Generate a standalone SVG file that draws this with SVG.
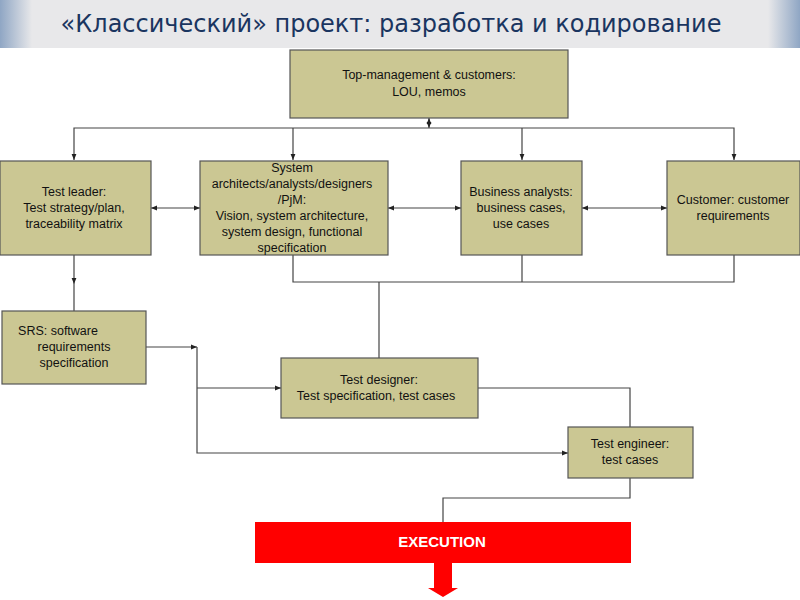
<svg xmlns="http://www.w3.org/2000/svg" width="800" height="600" viewBox="0 0 800 600">
<style>
.box{fill:#cbc793;stroke:#555;stroke-width:1.2}
.t{font-family:"Liberation Sans",Arial,sans-serif;font-size:12.5px;fill:#111;text-anchor:middle}
.c{fill:none;stroke:#444;stroke-width:1.2}
</style>
<defs>
<linearGradient id="bar" x1="0" x2="1" y1="0" y2="0">
<stop offset="0" stop-color="#8fa6c4"/><stop offset="0.04" stop-color="#e8e8ea"/><stop offset="0.96" stop-color="#e8e8ea"/><stop offset="1" stop-color="#8fa6c4"/>
</linearGradient>
<marker id="a" viewBox="0 0 10 10" refX="10" refY="5" markerWidth="5" markerHeight="5" orient="auto-start-reverse"><path d="M0,1 L10,5 L0,9 z" fill="#222"/></marker>
</defs>
<rect x="0" y="0" width="800" height="48" fill="url(#bar)"/>
<text x="391" y="32" font-family="'DejaVu Sans',sans-serif" font-size="24" fill="#1a3560" text-anchor="middle">«Классический» проект: разработка и кодирование</text>
<g id="connectors">
<path class="c" d="M429,118 V128" marker-start="url(#a)" marker-end="url(#a)"/>
<path class="c" d="M74,160 V128 H734 V160" marker-start="url(#a)" marker-end="url(#a)"/>
<path class="c" d="M293,128 V160" marker-end="url(#a)"/>
<path class="c" d="M522,128 V160" marker-end="url(#a)"/>
<path class="c" d="M151,208 H200" marker-start="url(#a)" marker-end="url(#a)"/>
<path class="c" d="M388,208 H461" marker-start="url(#a)" marker-end="url(#a)"/>
<path class="c" d="M582,208 H667" marker-start="url(#a)" marker-end="url(#a)"/>
<path class="c" d="M74,255 V284" marker-end="url(#a)"/>
<path class="c" d="M74,284 V311"/>
<path class="c" d="M293,255 V282 H734 V255"/>
<path class="c" d="M522,255 V282"/>
<path class="c" d="M379,282 V358"/>
<path class="c" d="M146,347 H197" marker-end="url(#a)"/>
<path class="c" d="M197,347 V453 H568" marker-end="url(#a)"/>
<path class="c" d="M197,388 H281" marker-end="url(#a)"/>
<path class="c" d="M478,388 H630 V427"/>
<path class="c" d="M630,478 V498 H443 V522"/>
</g>
<g id="top"><rect class="box" x="290" y="50" width="278" height="68"/>
<text class="t" x="429" y="79">Top-management &amp; customers:</text><text class="t" x="429" y="96">LOU, memos</text></g>
<g id="testleader"><rect class="box" x="0" y="161" width="151" height="94"/>
<text class="t" x="74" y="196">Test leader:</text><text class="t" x="74" y="212">Test strategy/plan,</text><text class="t" x="74" y="228">traceability matrix</text></g>
<g id="system"><rect class="box" x="200" y="161" width="188" height="94"/>
<text class="t" x="292" y="172">System</text><text class="t" x="292" y="188">architects/analysts/designers</text><text class="t" x="292" y="204">/PjM:</text><text class="t" x="292" y="220">Vision, system architecture,</text><text class="t" x="292" y="236">system design, functional</text><text class="t" x="292" y="252">specification</text></g>
<g id="business"><rect class="box" x="461" y="161" width="121" height="94"/>
<text class="t" x="521" y="196">Business analysts:</text><text class="t" x="521" y="212">business cases,</text><text class="t" x="521" y="228">use cases</text></g>
<g id="customer"><rect class="box" x="667" y="161" width="133" height="94"/>
<text class="t" x="733" y="204">Customer: customer</text><text class="t" x="733" y="220">requirements</text></g>
<g id="srs"><rect class="box" x="2" y="311" width="144" height="73"/>
<text class="t" x="58" y="335" text-anchor="start" style="text-anchor:middle">SRS: software</text><text class="t" x="74" y="351">requirements</text><text class="t" x="74" y="367">specification</text></g>
<g id="designer"><rect class="box" x="281" y="358" width="197" height="60"/>
<text class="t" x="379" y="384">Test designer:</text><text class="t" x="376" y="400">Test specification, test cases</text></g>
<g id="engineer"><rect class="box" x="568" y="427" width="125" height="51"/>
<text class="t" x="630" y="448">Test engineer:</text><text class="t" x="630" y="464">test cases</text></g>
<g id="execution"><rect x="255" y="522" width="376" height="41" fill="#ff0000"/>
<text x="442" y="547" font-family="'Liberation Sans',Arial,sans-serif" font-size="15" font-weight="bold" fill="#fff" text-anchor="middle">EXECUTION</text>
<path d="M434,563 H452 V588 H458 L443,597 L428,588 H434 Z" fill="#ff0000"/></g>
</svg>
